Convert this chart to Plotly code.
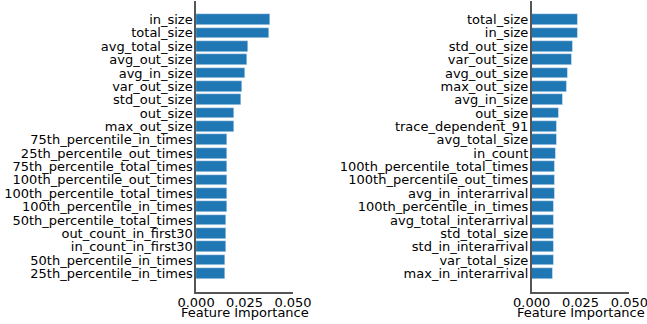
import plotly.graph_objects as go

left_features = [
    "in_size", "total_size", "avg_total_size", "avg_out_size", "avg_in_size",
    "var_out_size", "std_out_size", "out_size", "max_out_size",
    "75th_percentile_in_times", "25th_percentile_out_times",
    "75th_percentile_total_times", "100th_percentile_out_times",
    "100th_percentile_total_times", "100th_percentile_in_times",
    "50th_percentile_total_times", "out_count_in_first30",
    "in_count_in_first30", "50th_percentile_in_times", "25th_percentile_in_times",
]
left_values = [
    0.0383, 0.0378, 0.0270, 0.0264, 0.0254,
    0.0239, 0.0234, 0.0197, 0.0197,
    0.0161, 0.0161,
    0.0161, 0.0161,
    0.0161, 0.0160,
    0.0156, 0.0156,
    0.0156, 0.0151, 0.0151,
]

right_features = [
    "total_size", "in_size", "std_out_size", "var_out_size", "avg_out_size",
    "max_out_size", "avg_in_size", "out_size", "trace_dependent_91",
    "avg_total_size", "in_count", "100th_percentile_total_times",
    "100th_percentile_out_times", "avg_in_interarrival",
    "100th_percentile_in_times", "avg_total_interarrival", "std_total_size",
    "std_in_interarrival", "var_total_size", "max_in_interarrival",
]
right_values = [
    0.0237, 0.0237, 0.0212, 0.0207, 0.0186,
    0.0181, 0.0160, 0.0140, 0.0130,
    0.0130, 0.0125, 0.0120,
    0.0120, 0.0120,
    0.0114, 0.0114, 0.0114,
    0.0114, 0.0114, 0.0109,
]

x_ticks = [0.0, 0.025, 0.05]
x_ticktext = ["0.000", "0.025", "0.050"]
x_title = "Feature Importance"

BAR = "#1f77b4"
SPINE = "#555555"
FONT = dict(family="DejaVu Sans", size=13, color="black")

fig = go.Figure()

n = len(left_features)
ypos = list(range(n))

fig.add_trace(go.Bar(x=left_values, y=ypos, orientation="h", marker_color=BAR,
                     width=0.8, xaxis="x", yaxis="y", showlegend=False))
fig.add_trace(go.Bar(x=right_values, y=ypos, orientation="h", marker_color=BAR,
                     width=0.8, xaxis="x2", yaxis="y2", showlegend=False))

def xaxis(domain, anchor):
    return dict(domain=domain, anchor=anchor, range=[0, 0.05], tickvals=x_ticks,
                ticktext=x_ticktext, showgrid=False, zeroline=False,
                showline=True, linecolor=SPINE, linewidth=1.5, ticks="",
                ticklabelstandoff=-2, ticklabeloverflow="allow",
                tickfont=FONT, automargin=False, fixedrange=True)

def yaxis(domain, anchor, labels):
    return dict(domain=domain, anchor=anchor, range=[n - 1 + 1.39, -1.39],
                tickvals=ypos, ticktext=labels, showgrid=False, zeroline=False,
                showline=True, linecolor=SPINE, linewidth=1.5, ticks="",
                ticklabelstandoff=-1, tickfont=FONT, automargin=False, fixedrange=True)

ydom = [0.0988, 0.9969]
xdom1 = [0.3030, 0.4529]
xdom2 = [0.8218, 0.9727]
fig.update_layout(
    width=647, height=324,
    margin=dict(l=0, r=0, t=0, b=0),
    paper_bgcolor="white", plot_bgcolor="white",
    bargap=0,
    xaxis=xaxis(xdom1, "y"),
    yaxis=yaxis(ydom, "x", left_features),
    xaxis2=xaxis(xdom2, "y2"),
    yaxis2=yaxis(ydom, "x2", right_features),
)

for dom in (xdom1, xdom2):
    fig.add_annotation(text=x_title, x=(dom[0] + dom[1]) / 2, y=0.034,
                       xref="paper", yref="paper", xanchor="center", yanchor="middle",
                       showarrow=False, font=FONT)

fig.write_html("out.html")
